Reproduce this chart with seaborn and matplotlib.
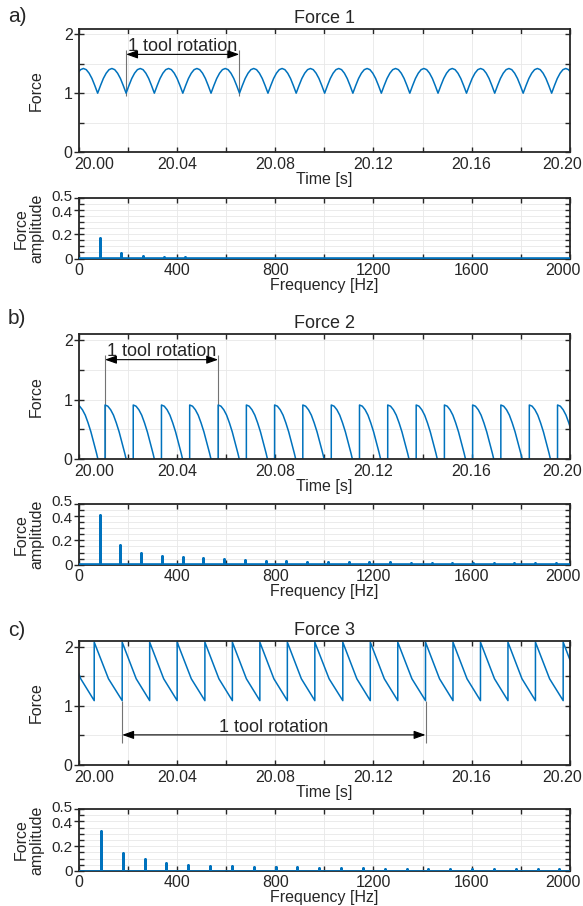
import numpy as np
import pandas as pd
import matplotlib
matplotlib.use("Agg")
import matplotlib.pyplot as plt
from matplotlib.ticker import FixedLocator, FixedFormatter, NullFormatter
from matplotlib.transforms import ScaledTranslation
import seaborn as sns

sns.set_theme(style="ticks")
plt.rcParams["font.family"] = ["Liberation Sans", "DejaVu Sans"]

BLUE = "#0072BD"
INK = "#262626"

# ---- time signals: tooth start times [s] + one tooth shape (phase 0..1) ----
f1_teeth = [19.9960, 20.0076, 20.0192, 20.0307, 20.0423, 20.0538, 20.0654, 20.0770,
            20.0885, 20.1001, 20.1116, 20.1232, 20.1348, 20.1463, 20.1579, 20.1694,
            20.1810, 20.1926, 20.2041]
f1_phase = [0.0, 0.1, 0.2, 0.3, 0.4, 0.5, 0.6, 0.7, 0.8, 0.9, 1.0]
f1_shape = [1.00, 1.13, 1.25, 1.34, 1.40, 1.42, 1.40, 1.34, 1.25, 1.13, 1.00]

f2_teeth = [19.9991, 20.0106, 20.0221, 20.0336, 20.0451, 20.0567, 20.0682, 20.0797,
            20.0912, 20.1028, 20.1143, 20.1258, 20.1374, 20.1489, 20.1604, 20.1719,
            20.1835, 20.1950, 20.2065]
f2_phase = [0.0, 0.1, 0.2, 0.3, 0.4, 0.5, 0.6, 0.7, 0.75, 1.0]
f2_shape = [0.91, 0.89, 0.83, 0.74, 0.61, 0.46, 0.28, 0.10, 0.0, 0.0]

f3_teeth = [19.9950, 20.0062, 20.0176, 20.0288, 20.0400, 20.0513, 20.0625, 20.0737,
            20.0849, 20.0961, 20.1075, 20.1187, 20.1299, 20.1412, 20.1524, 20.1636,
            20.1748, 20.1860, 20.1973, 20.2085]
f3_phase = [0.0, 0.51, 1.0]
f3_shape = [2.08, 1.46, 1.09]

# ---- spectra: harmonic peaks ----
s1_freq = [86.5, 173, 259.5, 346, 432.5, 519]
s1_amp = [0.173, 0.046, 0.022, 0.013, 0.009, 0.006]

s2_freq = [84.5 * k for k in range(1, 24)]
s2_amp = [0.41, 0.16, 0.094, 0.075, 0.064, 0.053, 0.043, 0.037, 0.033, 0.030, 0.026,
          0.025, 0.022, 0.020, 0.019, 0.018, 0.017, 0.016, 0.016, 0.015, 0.015, 0.014, 0.014]

s3_freq = [89.0 * k for k in range(1, 23)]
s3_amp = [0.325, 0.149, 0.095, 0.062, 0.045, 0.040, 0.038, 0.035, 0.032, 0.030, 0.027,
          0.024, 0.022, 0.020, 0.018, 0.017, 0.016, 0.016, 0.015, 0.015, 0.014, 0.014]
noise_floor = 0.004

# ---- "1 tool rotation" markers: start, end, line bottom, line top, arrow y, text y ----
rot1 = [20.0192, 20.0653, 0.955, 1.74, 1.66, 1.80]
rot2 = [20.0106, 20.0567, 0.0, 1.74, 1.67, 1.81]
rot3 = [20.0176, 20.1412, 0.37, 1.09, 0.51, 0.63]


def build_signal(teeth, phase, shape):
    t, y = [], []
    for a, b in zip(teeth[:-1], teeth[1:]):
        t += [a + p * (b - a) for p in phase]
        y += list(shape)
    return pd.DataFrame({"t": t, "force": y})


def build_spectrum(freqs, amps):
    f, a = [0.0], [noise_floor]
    for fr, am in zip(freqs, amps):
        f += [fr, fr, fr]
        a += [noise_floor, am, noise_floor]
    f.append(2000.0)
    a.append(noise_floor)
    return pd.DataFrame({"freq": f, "amp": a})


def style_axes(ax, xmaj, xmin_, ymaj, ylab, ymin_, xfmt):
    ax.xaxis.set_major_locator(FixedLocator(xmaj))
    ax.xaxis.set_major_formatter(FixedFormatter([xfmt.format(v) for v in xmaj]))
    ax.xaxis.set_minor_locator(FixedLocator(xmin_))
    ax.xaxis.set_minor_formatter(NullFormatter())
    ax.yaxis.set_major_locator(FixedLocator(ymaj))
    ax.yaxis.set_major_formatter(FixedFormatter(ylab))
    ax.yaxis.set_minor_locator(FixedLocator(ymin_))
    ax.yaxis.set_minor_formatter(NullFormatter())
    ax.grid(True, which="both", color="#e8e8e8", lw=0.6)
    ax.set_axisbelow(True)
    for s in ax.spines.values():
        s.set_visible(True)
        s.set_color(INK)
        s.set_linewidth(1.3)
    ax.tick_params(which="both", direction="in", top=True, right=True,
                   length=3.5, width=1, color=INK, labelcolor=INK, labelsize=11.5)


def dash_left_ticks(ax):
    # labelled y ticks cross the left spine (short dash outside too)
    for tk in ax.yaxis.get_major_ticks():
        tk.tick1line.set_marker("_")
        tk.tick1line.set_markersize(7.5)


def shift_label(lab, ha, dx):
    lab.set_horizontalalignment(ha)
    lab.set_transform(lab.get_transform() + ScaledTranslation(dx / 100, 0, fig.dpi_scale_trans))


def shift_label_y(lab, dy):
    lab.set_transform(lab.get_transform() + ScaledTranslation(0, dy / 100, fig.dpi_scale_trans))


W, H = 583, 906
fig = plt.figure(figsize=(W / 100, H / 100), dpi=100)


def rect(top, bottom, left=79, right=569.8):
    return [left / W, 1 - bottom / H, (right - left) / W, (bottom - top) / H]


panels = [
    ("a)", "Force 1", build_signal(f1_teeth, f1_phase, f1_shape),
     build_spectrum(s1_freq, s1_amp), rot1, (28.5, 152), (198.3, 258.5), 17),
    ("b)", "Force 2", build_signal(f2_teeth, f2_phase, f2_shape),
     build_spectrum(s2_freq, s2_amp), rot2, (334, 459.3), (504, 564.7), 319),
    ("c)", "Force 3", build_signal(f3_teeth, f3_phase, f3_shape),
     build_spectrum(s3_freq, s3_amp), rot3, (641, 765), (809, 871), 631),
]

for letter, title, sig, spec, rot, tbox, sbox, ly in panels:
    # time signal
    ax = fig.add_axes(rect(*tbox))
    sns.lineplot(data=sig, x="t", y="force", sort=False, estimator=None,
                 color=BLUE, lw=1.1, ax=ax)
    ax.set_xlim(20.0, 20.2)
    ax.set_ylim(0, 2.1)
    style_axes(ax, [20.00, 20.04, 20.08, 20.12, 20.16, 20.20],
               [20.02, 20.06, 20.10, 20.14, 20.18],
               [0, 1, 2], ["0", "1", "2"], [0.5, 1.5], "{:.2f}")
    ax.tick_params(axis="x", pad=3.5)
    ax.tick_params(axis="y", pad=4.5)
    ax.set_title(title, fontsize=13, color=INK, pad=4)
    ax.set_xlabel("Time [s]", fontsize=11.5, color=INK, labelpad=0)
    ax.set_ylabel("Force", fontsize=11.5, color=INK)
    ax.yaxis.set_label_coords(-0.071, 0.5)

    x0, x1, yb, yt, ya, ytxt = rot
    ax.vlines([x0, x1], yb, yt, color="0.45", lw=0.8, zorder=1)
    ax.annotate("", xy=(x0, ya), xytext=(x1, ya),
                arrowprops=dict(arrowstyle="<|-|>,head_length=0.7,head_width=0.25",
                                color="black", lw=0.8, shrinkA=0, shrinkB=0,
                                mutation_scale=10))
    ax.text((x0 + x1) / 2, ytxt, "1 tool rotation", ha="center", va="center",
            fontsize=13, color=INK)
    fig.text(8 / W, 1 - ly / H, letter, ha="left", va="center", fontsize=15, color=INK)

    # spectrum
    bx = fig.add_axes(rect(*sbox))
    sns.lineplot(data=spec, x="freq", y="amp", sort=False, estimator=None,
                 color=BLUE, lw=1.9, ax=bx, zorder=3)
    bx.set_xlim(0, 2000)
    bx.set_ylim(0, 0.5)
    style_axes(bx, [0, 400, 800, 1200, 1600, 2000],
               [200, 600, 1000, 1400, 1800],
               [0, 0.2, 0.4, 0.5], ["0", "0.2", "0.4", "0.5"],
               [0.05, 0.1, 0.15, 0.25, 0.3, 0.35, 0.45], "{:.0f}")
    bx.tick_params(axis="x", pad=3)
    bx.tick_params(axis="y", pad=4.5, labelsize=11)
    bx.set_xlabel("Frequency [Hz]", fontsize=11.5, color=INK, labelpad=0)
    bx.set_ylabel("Force\namplitude", fontsize=11.5, color=INK, linespacing=1.05)
    bx.yaxis.set_label_coords(-0.071, 0.5)

    dash_left_ticks(ax)
    dash_left_ticks(bx)

    # end tick labels pulled inside the figure like the reference
    xt = ax.xaxis.get_major_ticks()
    shift_label(xt[0].label1, "left", -5)
    shift_label(xt[-1].label1, "right", 12)
    xt = bx.xaxis.get_major_ticks()
    shift_label(xt[-1].label1, "right", 11)
    # 0.4 / 0.5 sit very close together; nudge them apart slightly
    yt_ = bx.yaxis.get_major_ticks()
    shift_label_y(yt_[3].label1, 3)
    shift_label_y(yt_[2].label1, -1.5)

fig.savefig("out.png", dpi=100)
